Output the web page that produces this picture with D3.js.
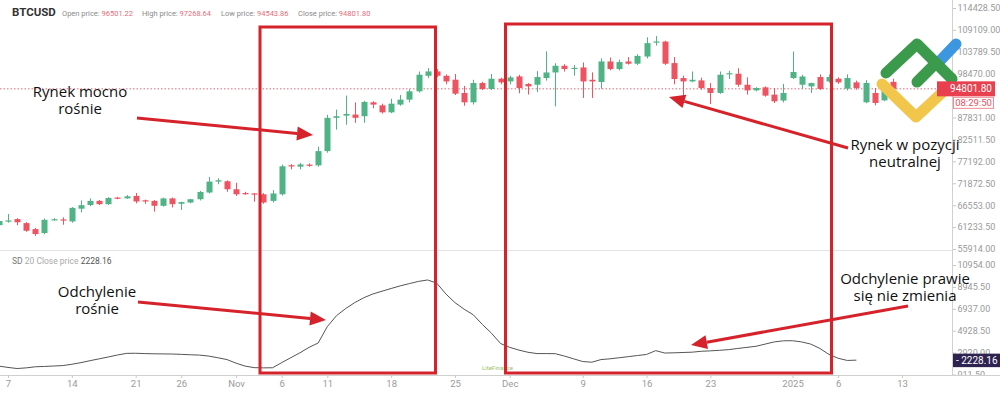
<!DOCTYPE html>
<html><head><meta charset="utf-8">
<script src="https://cdn.jsdelivr.net/npm/d3@7"></script>
<style>body{margin:0;background:#fff}svg{display:block}</style>
</head><body>
<svg id="c" width="1000" height="395"></svg>
<script>
// ---------- DATA ----------
const candleDates = [
"2024-10-06","2024-10-07","2024-10-08","2024-10-09","2024-10-10","2024-10-11","2024-10-12","2024-10-13","2024-10-14","2024-10-15","2024-10-16","2024-10-17","2024-10-18","2024-10-19","2024-10-20","2024-10-21","2024-10-22","2024-10-23","2024-10-24","2024-10-25","2024-10-26","2024-10-27","2024-10-28","2024-10-29","2024-10-30","2024-10-31",
"2024-11-01","2024-11-02","2024-11-03","2024-11-04","2024-11-05","2024-11-06","2024-11-07","2024-11-08","2024-11-09","2024-11-10","2024-11-11","2024-11-12","2024-11-13","2024-11-14","2024-11-15","2024-11-16","2024-11-17","2024-11-18","2024-11-19","2024-11-20","2024-11-21","2024-11-22","2024-11-23","2024-11-24","2024-11-25","2024-11-26","2024-11-27","2024-11-28","2024-11-29","2024-11-30",
"2024-12-01","2024-12-02","2024-12-03","2024-12-04","2024-12-05","2024-12-06","2024-12-07","2024-12-08","2024-12-09","2024-12-10","2024-12-11","2024-12-12","2024-12-13","2024-12-14","2024-12-15","2024-12-16","2024-12-17","2024-12-18","2024-12-19","2024-12-20","2024-12-21","2024-12-22","2024-12-23","2024-12-24","2024-12-25","2024-12-26","2024-12-27","2024-12-28","2024-12-29","2024-12-30","2024-12-31",
"2025-01-01","2025-01-02","2025-01-03","2025-01-04","2025-01-05","2025-01-06","2025-01-07","2025-01-08","2025-01-09","2025-01-10","2025-01-11","2025-01-12"];

const openP = [
61700,62550,63170,62200,60750,59780,62950,63100,62600,65700,66600,67600,66800,68400,68200,68800,67750,67600,66400,68200,66900,67200,68000,69630,72280,72360,
70420,69500,69400,69200,67600,69200,76250,75900,76400,76220,79680,87760,88300,88550,88150,91530,90800,89100,90980,92180,94200,97970,99030,97970,97020,93800,91530,96220,94770,97260,
96600,97820,95980,95800,97420,98780,100400,99700,100000,97000,96460,101450,99600,101450,100900,102650,106100,106280,101050,97420,96600,96850,95000,93800,98400,98470,95800,94430,95160,93400,91960,
97420,95800,95400,97670,96600,97260,94830,96370,91530,93800,92000,96501.22];
const highP = [
62900,64400,63400,62450,61000,63300,63400,63600,66100,67700,68200,67800,68500,68600,69000,69500,67900,67800,68400,68400,67400,68100,70000,73400,73100,72600,
72000,69800,69500,69500,70200,76400,76500,76800,76700,80760,88500,89760,93150,91500,91900,91800,91200,92400,93300,94700,99000,99840,99600,98300,98400,95500,97000,96500,98400,97500,
98000,98200,96200,99100,103900,101000,100800,100600,101200,98800,102200,102400,101900,102500,103200,107300,107600,106500,102500,98000,99000,97500,96200,99000,99200,99800,97600,95200,95400,95000,96000,
103860,98200,96300,98300,98300,97600,98300,96800,96900,95000,94800,97268.64];
const lowP = [
61500,62300,61700,60100,59100,59500,62800,61800,62300,64800,66300,66600,66600,68000,68100,67000,66900,65000,66200,66000,65400,67000,67700,69400,71650,69800,
68800,69100,67400,66900,67200,68900,75250,75250,75900,75900,79300,84900,86100,86550,86550,90100,88800,88900,90700,91530,93900,97400,97600,95900,93300,90700,91000,94500,94500,95900,
95900,93700,93400,94000,96800,90560,99000,98000,92600,92600,94800,99300,99300,100700,100600,102200,105300,100600,95900,92180,96400,94600,91100,93600,97200,95300,93400,94200,92900,91350,91500,
97200,94800,93800,94500,96300,96000,94400,94600,91300,90800,91800,94543.86];
const closeP = [
62700,62850,62400,60340,59540,63000,63150,62850,65900,66550,67600,66800,68300,68200,68700,67450,67450,66400,68200,66800,67300,68000,69770,72280,72600,70420,
69200,69400,69200,67200,69400,76000,76000,76450,76200,79680,87760,88150,88700,87760,91620,90980,89100,91200,92180,94200,98230,99030,97970,96600,93630,91530,96220,94770,97260,96370,
97580,95000,95400,97670,98780,100400,99600,99900,96600,96600,101450,99600,101300,100900,102800,105900,106300,100900,97180,96600,97000,95000,93800,98230,98600,95800,94430,95000,93150,91770,93800,
98880,97800,96200,94770,97670,96370,97420,95000,96220,91370,94600,94801.80];

// SD(20) of close, one value per day starting 2024-10-06
const sdValues = [
1680,1560,1460,1520,1620,1650,1690,1730,1850,2000,2180,2350,2520,2700,2850,2860,2830,2810,2800,2790,2760,2720,2690,2600,2450,2280,1950,1680,1540,1520,1530,
2000,2450,2900,3400,3800,5300,6300,6950,7500,7950,8300,8550,8800,9040,9250,9450,9580,9290,8300,7500,6900,6390,5500,4700,3750,3400,3150,2950,2830,2830,2820,
2600,2350,2100,2040,2280,2350,2450,2550,2650,2750,3100,2880,2900,2930,2960,3040,3080,3130,3190,3300,3400,3500,3700,3900,4000,4010,3900,3700,3300,2750,2400,2200,2228.16];

// 93150.50 sits under the last-price label, so it is not listed
const priceTicks = [55914,61233.5,66553,71872.5,77192,82511.5,87831,98470,103789.5,109109,114428.5];
const sdTicks = [911.5,2920,4928.5,6937,8945.5,10954];
const timeTickDates = ["2024-10-07","2024-10-14","2024-10-21","2024-10-26","2024-11-01","2024-11-06","2024-11-11","2024-11-18","2024-11-25","2024-12-01","2024-12-09","2024-12-16","2024-12-23","2025-01-01","2025-01-06","2025-01-13"];
const timeTickLabels = ["7","14","21","26","Nov","6","11","18","25","Dec","9","16","23","2025","6","13"];

const header = {symbol:"BTCUSD", open:"96501.22", high:"97268.64", low:"94543.86", close:"94801.80"};
const lastPrice = 94801.80;
const sdLast = "2228.16";

// ---------- SETUP ----------
const svg = d3.select("#c");
const parse = d3.utcParse("%Y-%m-%d");
const x = d3.scaleUtc().domain([parse("2024-10-07"), parse("2025-01-13")]).range([8, 902]);
const yP = d3.scaleLinear().domain([55914, 114428.5]).range([249, 8]);
const yS = d3.scaleLinear().domain([911.5, 10954]).range([374.5, 265]);
const AX = 952;
const GREEN = "#4fb386", RED = "#ec5461", FONT = "Roboto, 'Noto Sans', sans-serif";

svg.append("rect").attr("width",1000).attr("height",395).attr("fill","#fff");
const defs = svg.append("defs");
defs.append("clipPath").attr("id","cm").append("rect").attr("x",0).attr("y",0).attr("width",AX).attr("height",250);
defs.append("clipPath").attr("id","cs").append("rect").attr("x",0).attr("y",251).attr("width",AX).attr("height",124);
defs.append("clipPath").attr("id","cax").append("rect").attr("x",AX).attr("y",0).attr("width",60).attr("height",375);

svg.append("line").attr("x1",0).attr("x2",AX).attr("y1",250.5).attr("y2",250.5).attr("stroke","#e3e3e3");

// candles
const data = candleDates.map((d,i)=>({d:parse(d),o:openP[i],h:highP[i],l:lowP[i],c:closeP[i]}));
const gc = svg.append("g").attr("clip-path","url(#cm)");
gc.append("line").attr("x1",0).attr("x2",AX).attr("y1",yP(lastPrice)).attr("y2",yP(lastPrice))
  .attr("stroke","#e06a78").attr("stroke-dasharray","1.5,2").attr("stroke-width",1);
const cg = gc.selectAll("g.k").data(data).join("g").attr("class","k");
cg.append("line").attr("x1",d=>Math.round(x(d.d))+0.5).attr("x2",d=>Math.round(x(d.d))+0.5)
  .attr("y1",d=>yP(d.h)).attr("y2",d=>yP(d.l)).attr("stroke",d=>d.c>=d.o?GREEN:RED).attr("stroke-width",1);
cg.append("rect").attr("x",d=>Math.round(x(d.d))-2.5).attr("width",6)
  .attr("y",d=>yP(Math.max(d.o,d.c))).attr("height",d=>Math.max(1.2,Math.abs(yP(d.o)-yP(d.c))))
  .attr("fill",d=>d.c>=d.o?GREEN:RED);

// SD line
const sdData = sdValues.map((v,i)=>({d:parse(candleDates[i]),v}));
svg.append("g").attr("clip-path","url(#cs)").append("path").datum(sdData)
  .attr("fill","none").attr("stroke","#555").attr("stroke-width",1)
  .attr("d", d3.line().x(d=>x(d.d)).y(d=>yS(d.v)));

// axes
function styleAxis(g, fs){
  g.selectAll("text").attr("fill","#9a9a9a").style("font-family",FONT).style("font-size",fs);
  g.selectAll("line").attr("stroke","#c8c8c8");
  g.select(".domain").attr("stroke","#d0d0d0");
}
const ga = svg.append("g").attr("clip-path","url(#cax)");
ga.append("g").attr("transform",`translate(${AX},0)`)
  .call(d3.axisRight(yP).tickValues(priceTicks).tickFormat(d3.format(".2f")).tickSize(4).tickPadding(1.5))
  .call(g=>styleAxis(g,"9px")).call(g=>g.select(".domain").remove());
ga.append("g").attr("transform",`translate(${AX},0)`)
  .call(d3.axisRight(yS).tickValues(sdTicks).tickFormat(d3.format(".2f")).tickSize(4).tickPadding(1.5))
  .call(g=>styleAxis(g,"9px")).call(g=>g.select(".domain").remove());
svg.append("line").attr("x1",AX+0.5).attr("x2",AX+0.5).attr("y1",0).attr("y2",375).attr("stroke","#d0d0d0");

svg.append("g").attr("transform","translate(0,375)")
  .call(d3.axisBottom(x).tickValues(timeTickDates.map(parse)).tickFormat((d,i)=>timeTickLabels[i]).tickSize(3).tickPadding(2))
  .call(g=>styleAxis(g,"9.5px")).call(g=>g.select(".domain").attr("d","M0,0.5H1000"));

// header
const ht = svg.append("text").attr("x",12).attr("y",16).style("font-family",FONT);
ht.append("tspan").text(header.symbol).attr("font-weight","bold").attr("font-size","11.5px").attr("fill","#333");
const hitems = [["Open price: ",header.open,62],["High price: ",header.high,142],["Low price: ",header.low,221],["Close price: ",header.close,298]];
hitems.forEach(([lab,val,px])=>{
  const t = svg.append("text").attr("x",px).attr("y",15.5).style("font-family",FONT).attr("font-size","7.5px");
  t.append("tspan").text(lab).attr("fill","#8a8a8a");
  t.append("tspan").text(val).attr("fill","#e46d7c");
});
const st = svg.append("text").attr("x",12).attr("y",264).style("font-family",FONT).attr("font-size","8.5px");
st.append("tspan").text("SD ").attr("fill","#777");
st.append("tspan").text("20 Close price ").attr("fill","#aaa");
st.append("tspan").text(sdLast).attr("fill","#555");

svg.append("text").attr("x",482).attr("y",370).attr("font-size","6px").style("font-family",FONT).attr("fill","#9cc36a").text("LiteFinance");

// logo
const logo = svg.append("g").attr("fill","none").attr("stroke-linecap","round").attr("stroke-linejoin","round").attr("stroke-width",11);
logo.append("path").attr("d","M938,63 L956,44").attr("stroke","#3d97e0");
logo.append("path").attr("d","M882,84 L916,117 L947,88").attr("stroke","#f1c64a");
logo.append("path").attr("d","M886,73 L917,44 L952,79").attr("stroke","#3b9a4c");
logo.append("path").attr("d","M917,82 L936,63").attr("stroke","#3b9a4c");

// price labels on axis
svg.append("rect").attr("x",937).attr("y",yP(lastPrice)-7.5).attr("width",58).attr("height",15).attr("fill","#e8404f");
svg.append("text").attr("x",992).attr("y",yP(lastPrice)+3.5).attr("text-anchor","end").attr("fill","#fff")
  .style("font-family",FONT).attr("font-size","10px").text(lastPrice.toFixed(2));
svg.append("rect").attr("x",953.5).attr("y",yP(lastPrice)+8.5).attr("width",40).attr("height",11).attr("fill","#fff").attr("stroke","#ef8a95");
svg.append("text").attr("x",973.5).attr("y",yP(lastPrice)+17.5).attr("text-anchor","middle").attr("fill","#e8505d")
  .style("font-family",FONT).attr("font-size","9.5px").text("08:29:50");
svg.append("rect").attr("x",AX+1).attr("y",yS(2228.16)-6.5).attr("width",47).attr("height",13.5).attr("fill","#2e2350");
svg.append("text").attr("x",AX+4).attr("y",yS(2228.16)+3.5).attr("fill","#fff")
  .style("font-family",FONT).attr("font-size","10px").text("- "+sdLast);

// ---------- annotations ----------
const AR = "#d6222a";
const ann = svg.append("g");
function box(x1,y1,x2,y2){ ann.append("rect").attr("x",x1).attr("y",y1).attr("width",x2-x1).attr("height",y2-y1).attr("fill","none").attr("stroke",AR).attr("stroke-width",3); }
function arrow(x1,y1,x2,y2){
  const a = Math.atan2(y2-y1,x2-x1), L=16, Wd=7;
  const bx = x2-L*Math.cos(a), by = y2-L*Math.sin(a);
  ann.append("line").attr("x1",x1).attr("y1",y1).attr("x2",bx).attr("y2",by).attr("stroke",AR).attr("stroke-width",3);
  const px=-Math.sin(a), py=Math.cos(a);
  ann.append("path").attr("d",`M${x2},${y2}L${bx+px*Wd},${by+py*Wd}L${bx-px*Wd},${by-py*Wd}Z`).attr("fill",AR);
}
function label(cx,y,lines){
  const t = ann.append("text").attr("text-anchor","middle").style("font-family","'Open Sans', sans-serif").attr("font-size","15px").attr("fill","#111");
  lines.forEach((s,i)=>t.append("tspan").attr("x",cx).attr("y",y+i*16.5).text(s));
}
box(260,27,435.5,373);
box(505.5,24,831.5,373);
arrow(137,118,313,135);
arrow(848,148,669,97);
arrow(138,302,326,320);
arrow(908,306,691,345);
label(80,97,["Rynek mocno","rośnie"]);
label(905,150,["Rynek w pozycji","neutralnej"]);
label(97,297,["Odchylenie","rośnie"]);
label(905,284,["Odchylenie prawie","się nie zmienia"]);
</script>
</body></html>
